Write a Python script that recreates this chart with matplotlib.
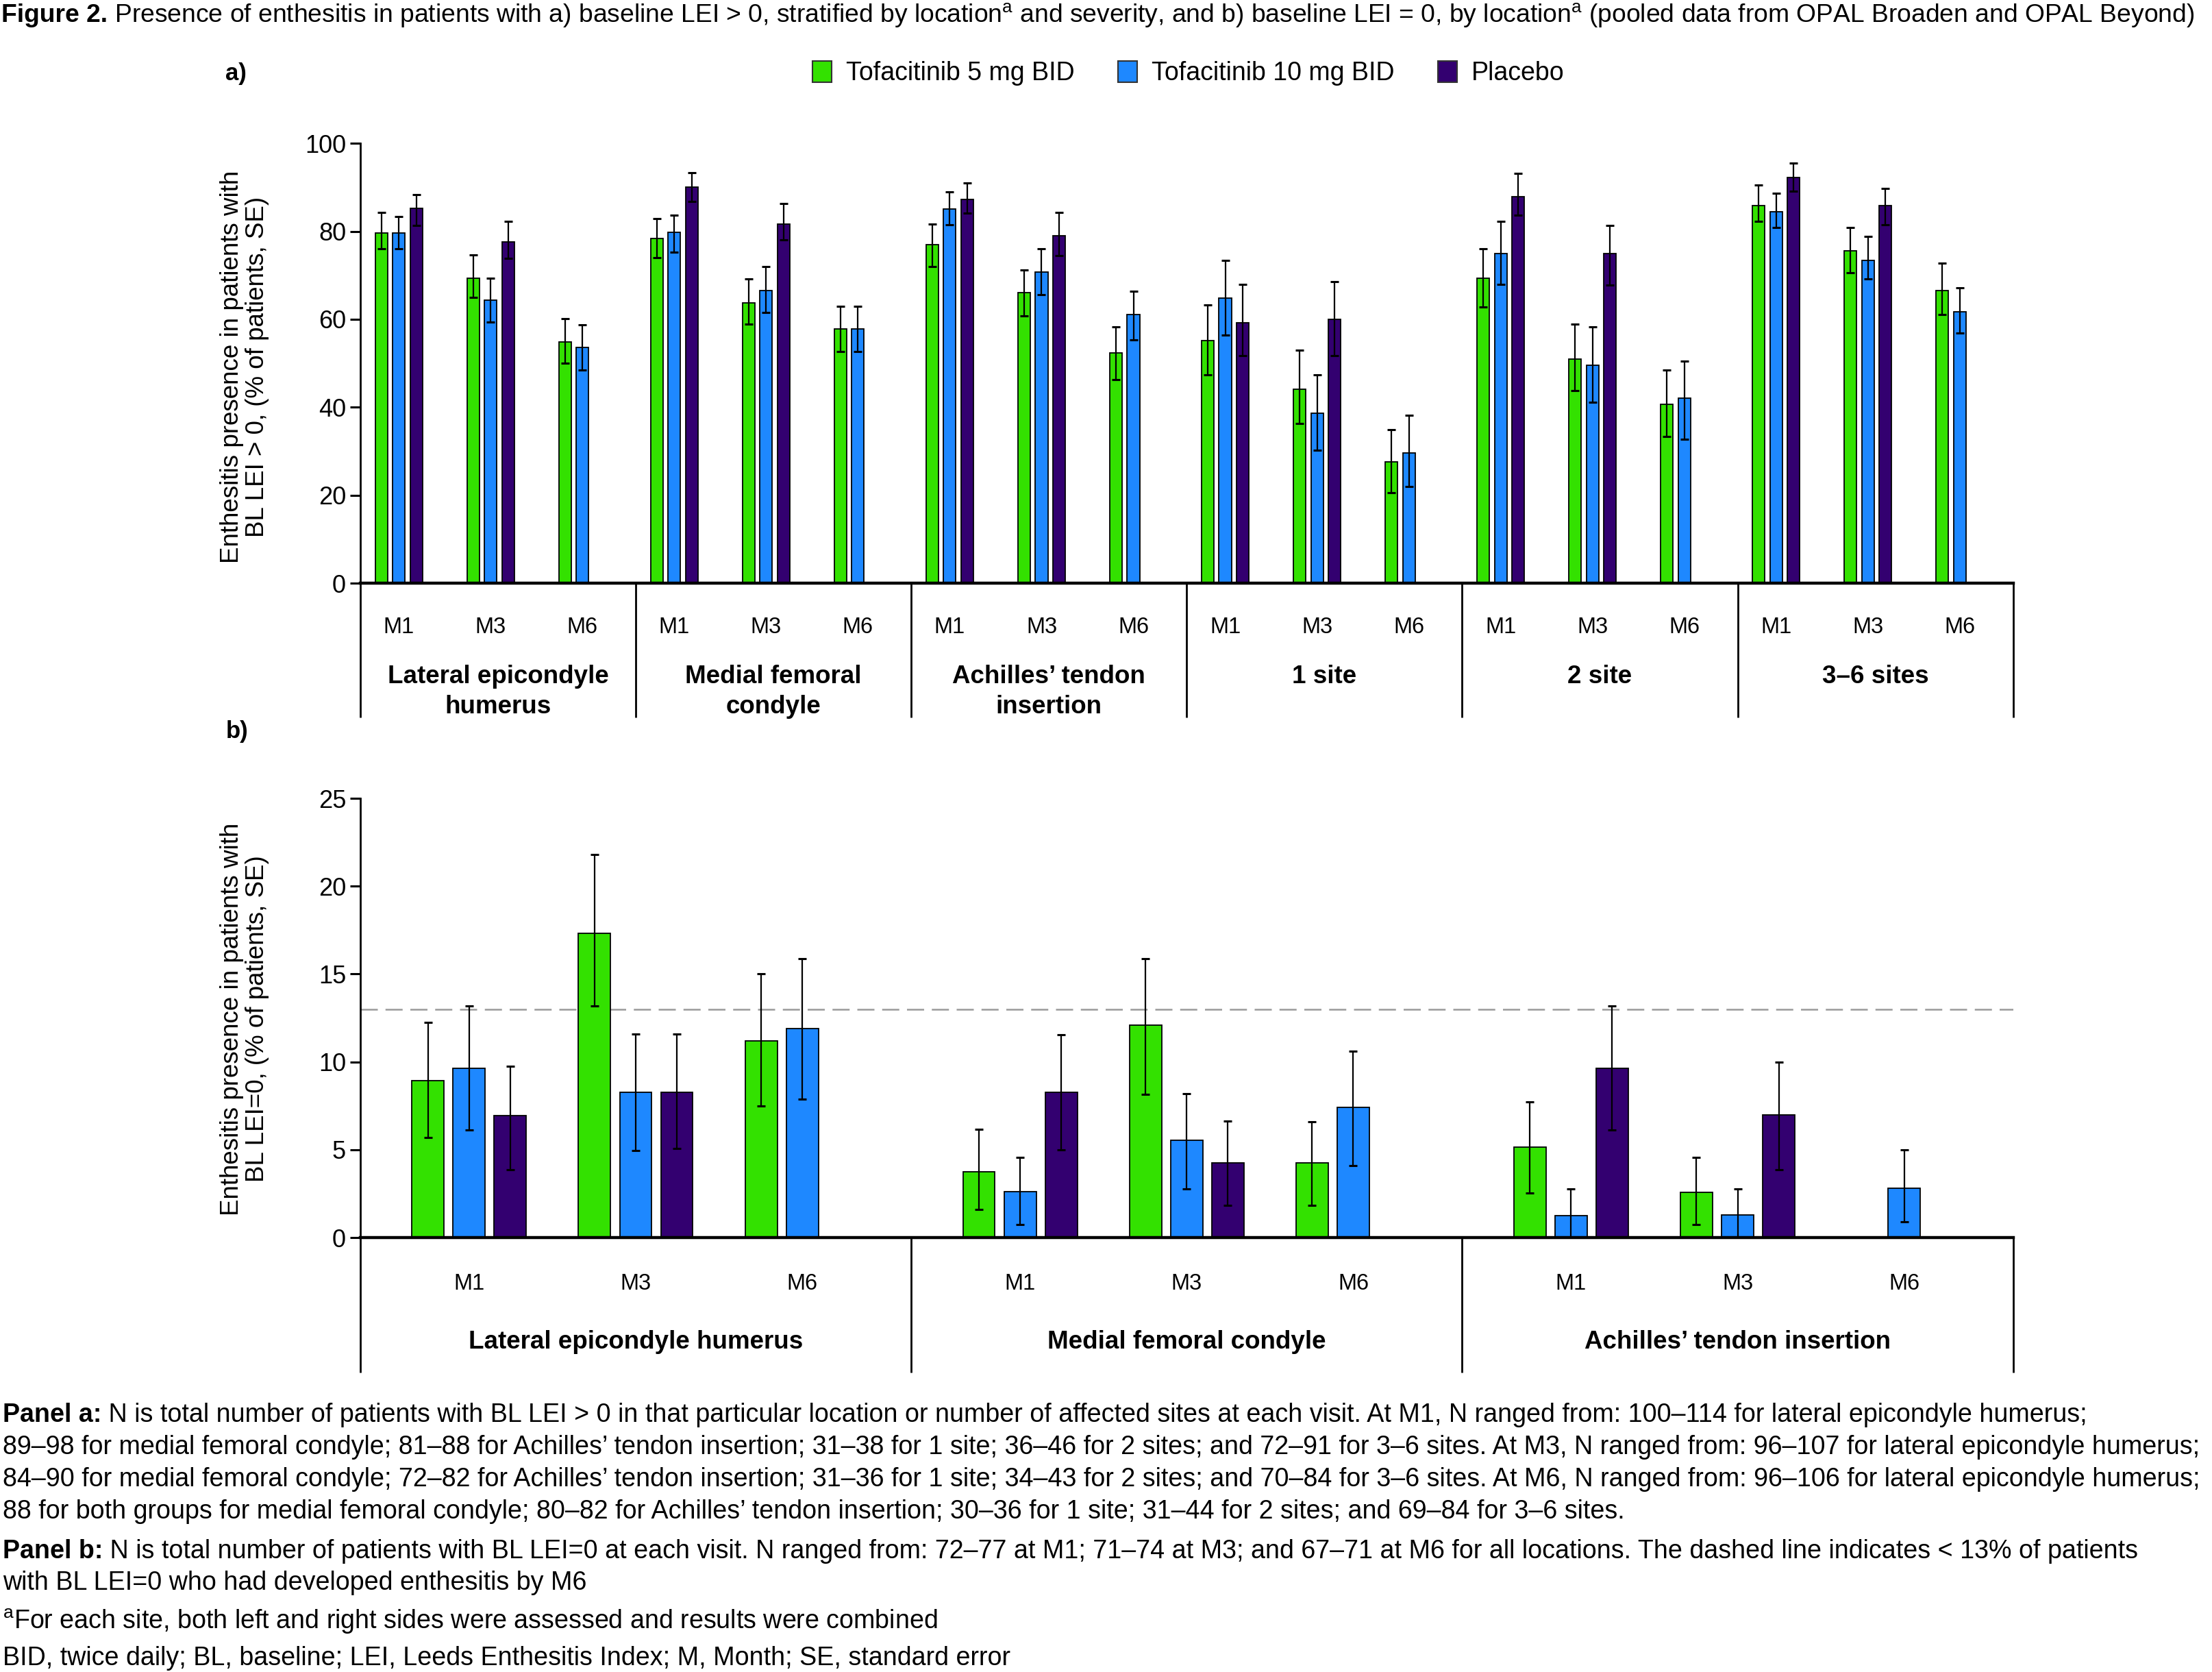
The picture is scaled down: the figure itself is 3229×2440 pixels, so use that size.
import numpy as np
import matplotlib
matplotlib.use("Agg")
import matplotlib.pyplot as plt
import matplotlib.transforms as mtransforms
from matplotlib.patches import Patch

plt.rcParams['font.family'] = ['Liberation Sans', 'DejaVu Sans']
plt.rcParams['mathtext.fontset'] = 'custom'
plt.rcParams['mathtext.rm'] = 'Liberation Sans'
plt.rcParams['mathtext.it'] = 'Liberation Sans:italic'
plt.rcParams['mathtext.bf'] = 'Liberation Sans:bold'

# ---------------- data ----------------
series_names = ["Tofacitinib 5 mg BID", "Tofacitinib 10 mg BID", "Placebo"]
visits = ["M1", "M3", "M6"]

groups_a = ["Lateral epicondyle\nhumerus", "Medial femoral\ncondyle", "Achilles\u2019 tendon\ninsertion",
            "1 site", "2 site", "3\u20136 sites"]
nan = np.nan
tofa5_a = [79.6, 69.3, 54.8, 78.4, 63.7, 57.8, 76.9, 66.0, 52.3, 55.1, 44.1, 27.6, 69.3, 50.9, 40.6, 85.9, 75.6, 66.6]
tofa5_a_hi = [84.3, 74.7, 60.1, 82.9, 69.2, 63.0, 81.6, 71.2, 58.2, 63.3, 52.9, 34.9, 76.1, 58.9, 48.5, 90.5, 80.9, 72.8]
tofa5_a_lo = [76.0, 64.9, 50.0, 74.0, 58.9, 52.6, 71.9, 60.8, 46.3, 47.4, 36.3, 20.5, 62.8, 43.8, 33.4, 82.2, 70.6, 61.1]
tofa10_a = [79.6, 64.4, 53.6, 79.7, 66.6, 57.8, 85.1, 70.8, 61.1, 64.8, 38.7, 29.6, 75.0, 49.6, 42.0, 84.5, 73.4, 61.7]
tofa10_a_hi = [83.4, 69.3, 58.7, 83.6, 72.0, 63.0, 89.0, 76.1, 66.4, 73.4, 47.4, 38.2, 82.2, 58.2, 50.5, 88.6, 78.9, 67.2]
tofa10_a_lo = [76.0, 59.4, 48.5, 75.3, 61.6, 52.6, 81.5, 65.6, 55.3, 56.4, 30.3, 21.9, 67.9, 41.2, 32.8, 80.9, 69.2, 56.9]
placebo_a = [85.2, 77.6, nan, 90.0, 81.7, nan, 87.3, 79.0, nan, 59.2, 60.0, nan, 87.8, 75.0, nan, 92.2, 85.8, nan]
placebo_a_hi = [88.3, 82.2, nan, 93.3, 86.3, nan, 91.0, 84.3, nan, 67.9, 68.6, nan, 93.2, 81.4, nan, 95.5, 89.8, nan]
placebo_a_lo = [81.4, 73.8, nan, 86.8, 78.1, nan, 84.2, 74.5, nan, 51.7, 51.7, nan, 83.7, 67.7, nan, 89.1, 81.5, nan]

groups_b = ["Lateral epicondyle humerus", "Medial femoral condyle", "Achilles\u2019 tendon insertion"]
tofa5_b = [8.94, 17.31, 11.2, 3.76, 12.09, 4.25, 5.16, 2.57, nan]
tofa5_b_hi = [12.24, 21.8, 15.0, 6.15, 15.87, 6.6, 7.73, 4.58, nan]
tofa5_b_lo = [5.68, 13.17, 7.5, 1.62, 8.16, 1.84, 2.53, 0.73, nan]
tofa10_b = [9.63, 8.27, 11.89, 2.63, 5.55, 7.4, 1.27, 1.29, 2.83]
tofa10_b_hi = [13.19, 11.6, 15.87, 4.58, 8.2, 10.6, 2.76, 2.76, 4.99]
tofa10_b_lo = [6.11, 4.97, 7.9, 0.73, 2.76, 4.08, 0.0, 0.0, 0.91]
placebo_b = [6.93, 8.27, nan, 8.29, 4.27, nan, 9.65, 6.99, nan]
placebo_b_hi = [9.74, 11.59, nan, 11.55, 6.65, nan, 13.19, 9.97, nan]
placebo_b_lo = [3.86, 5.07, nan, 5.01, 1.84, nan, 6.11, 3.86, nan]
threshold_b = 13

yticks_a = [0, 20, 40, 60, 80, 100]
yticks_b = [0, 5, 10, 15, 20, 25]

colors = ["#33E100", "#1E88FF", "#330070"]

# ---------------- figure ----------------
fig = plt.figure(figsize=(32.3, 24.4), dpi=100)
LEFT, WIDTH = 0.1628, 0.7470
axA = fig.add_axes([LEFT, 0.6512, WIDTH, 0.2631])
axB = fig.add_axes([LEFT, 0.2598, WIDTH, 0.2627])

CAT_FS = 26.5
M_FS = 23.5


def draw_panel(ax, vals, his, los, groups, offsets, step, width, ymax, yticks,
               sep_bottom, mlab_y, cat_y, cat_va, cat_ls):
    ng = len(groups)
    for si in range(3):
        v = np.array(vals[si], dtype=float)
        hi = np.array(his[si], dtype=float)
        lo = np.array(los[si], dtype=float)
        x = np.array([3 * g + offsets[m] + (si - 1) * step for g in range(ng) for m in range(3)])
        ax.bar(x, np.nan_to_num(v), width, color=colors[si], edgecolor="black",
               linewidth=1.3, zorder=2)
        ok = ~np.isnan(v)
        ax.errorbar(x[ok], v[ok], yerr=[v[ok] - lo[ok], hi[ok] - v[ok]], fmt="none",
                    ecolor="black", elinewidth=1.6, capsize=4.5, capthick=2.2, zorder=3)
    ax.set_xlim(0, 3 * ng)
    ax.set_ylim(0, ymax)
    ax.set_yticks(yticks)
    ax.set_xticks([])
    for s in ["top", "right"]:
        ax.spines[s].set_visible(False)
    ax.spines["bottom"].set_linewidth(3.2)
    ax.spines["left"].set_linewidth(2.0)
    ax.tick_params(axis="y", length=11, width=2.2, labelsize=26, pad=4)
    tr = mtransforms.blended_transform_factory(ax.transData, ax.transAxes)
    for g in range(ng + 1):
        ax.plot([3 * g, 3 * g], [0, sep_bottom], transform=tr, color="black",
                lw=2.0, clip_on=False, solid_capstyle="butt")
    for g in range(ng):
        for m in range(3):
            ax.text(3 * g + offsets[m], mlab_y, visits[m], transform=tr,
                    ha="center", va="center", fontsize=M_FS)
        ax.text(3 * g + 1.5, cat_y, groups[g], transform=tr, ha="center", va=cat_va,
                fontsize=CAT_FS, fontweight="bold", linespacing=cat_ls)


draw_panel(axA, [tofa5_a, tofa10_a, placebo_a], [tofa5_a_hi, tofa10_a_hi, placebo_a_hi],
           [tofa5_a_lo, tofa10_a_lo, placebo_a_lo], groups_a, [0.42, 1.42, 2.42],
           0.19, 0.135, 100, yticks_a, -0.305, -0.10, -0.186, "top", 1.33)
draw_panel(axB, [tofa5_b, tofa10_b, placebo_b], [tofa5_b_hi, tofa10_b_hi, placebo_b_hi],
           [tofa5_b_lo, tofa10_b_lo, placebo_b_lo], groups_b, [0.593, 1.5, 2.407],
           0.224, 0.175, 25, yticks_b, -0.307, -0.105, -0.238, "center", 1.22)
axB.axhline(threshold_b, color="#9a9a9a", lw=1.8, ls=(0, (10, 4.5)), zorder=1.5)

# y labels
fig.text(0.1105, 0.7805, "Enthesitis presence in patients with\nBL LEI > 0, (% of patients, SE)",
         rotation=90, ha="center", va="center", fontsize=26.5, multialignment="center",
         linespacing=1.1)
fig.text(0.1105, 0.3906, "Enthesitis presence in patients with\nBL LEI=0, (% of patients, SE)",
         rotation=90, ha="center", va="center", fontsize=26.5, multialignment="center",
         linespacing=1.1)

# panel letters
fig.text(0.102, 0.956, "a)", fontsize=25, fontweight="bold", ha="left", va="center")
fig.text(0.102, 0.5625, "b)", fontsize=25, fontweight="bold", ha="left", va="center")

# legend
handles = [Patch(facecolor=c, edgecolor="#333333", linewidth=1.5, label=n)
           for c, n in zip(colors, series_names)]
fig.legend(handles=handles, loc="center", bbox_to_anchor=(0.5370, 0.956), ncol=3,
           frameon=False, fontsize=27, handlelength=0.75, handleheight=0.87,
           handletextpad=0.55, columnspacing=1.7)

renderer = fig.canvas.get_renderer()


def rich(x, y, bold, rest, size):
    t = fig.text(x, y, bold, fontsize=size, fontweight="bold", ha="left", va="center")
    bb = t.get_window_extent(renderer=renderer)
    x2 = bb.x1 / fig.bbox.width
    fig.text(x2, y, rest, fontsize=size, ha="left", va="center")


TFS = 26.8
FS = 27.1
rich(0.0005, 1 - 22 / 2440, "Figure 2.",
     " Presence of enthesitis in patients with a) baseline LEI > 0, stratified by location$^{\\mathrm{a}}$ "
     "and severity, and b) baseline LEI = 0, by location$^{\\mathrm{a}}$ (pooled data from OPAL Broaden and OPAL Beyond)",
     TFS)

foot_a = [
    "89\u201398 for medial femoral condyle; 81\u201388 for Achilles\u2019 tendon insertion; 31\u201338 for 1 site; 36\u201346 for 2 sites; and 72\u201391 for 3\u20136 sites. At M3, N ranged from: 96\u2013107 for lateral epicondyle humerus;",
    "84\u201390 for medial femoral condyle; 72\u201382 for Achilles\u2019 tendon insertion; 31\u201336 for 1 site; 34\u201343 for 2 sites; and 70\u201384 for 3\u20136 sites. At M6, N ranged from: 96\u2013106 for lateral epicondyle humerus;",
    "88 for both groups for medial femoral condyle; 80\u201382 for Achilles\u2019 tendon insertion; 30\u201336 for 1 site; 31\u201344 for 2 sites; and 69\u201384 for 3\u20136 sites.",
]
rich(0.0012, 1 - 2065 / 2440, "Panel a:",
     " N is total number of patients with BL LEI > 0 in that particular location or number of affected sites at each visit. At M1, N ranged from: 100\u2013114 for lateral epicondyle humerus;",
     FS)
for i, line in enumerate(foot_a):
    fig.text(0.0012, 1 - (2112 + 47 * i) / 2440, line, fontsize=FS, ha="left", va="center")

rich(0.0012, 1 - 2264 / 2440, "Panel b:",
     " N is total number of patients with BL LEI=0 at each visit. N ranged from: 72\u201377 at M1; 71\u201374 at M3; and 67\u201371 at M6 for all locations. The dashed line indicates < 13% of patients",
     FS)
fig.text(0.0012, 1 - 2310 / 2440, "with BL LEI=0 who had developed enthesitis by M6", fontsize=FS, ha="left", va="center")
fig.text(0.0012, 1 - 2366 / 2440, "$^{\\mathrm{a}}$For each site, both left and right sides were assessed and results were combined",
         fontsize=FS, ha="left", va="center")
fig.text(0.0012, 1 - 2420 / 2440, "BID, twice daily; BL, baseline; LEI, Leeds Enthesitis Index; M, Month; SE, standard error",
         fontsize=FS, ha="left", va="center")

fig.savefig("out.png", dpi=100)
